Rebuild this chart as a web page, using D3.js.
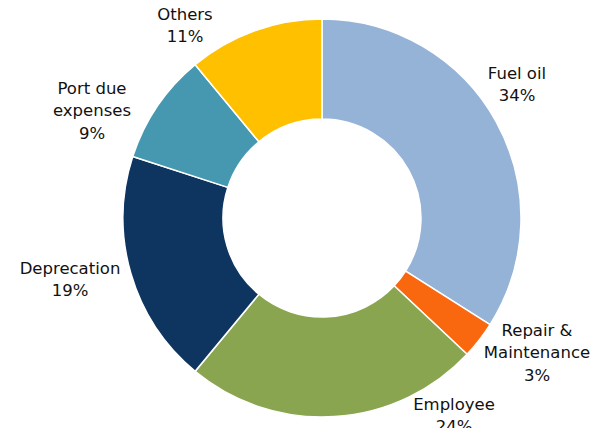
<!DOCTYPE html>
<html>
<head>
<meta charset="utf-8">
<script src="https://cdn.jsdelivr.net/npm/d3@7"></script>
<style>
  html, body { margin: 0; padding: 0; background: #fff; }
  svg text { font-family: "DejaVu Sans", Verdana, sans-serif; font-size: 16.5px; fill: #111; }
</style>
</head>
<body>
<svg id="chart" width="609" height="428"></svg>
<script>
// Cost breakdown, in percent of total
const categories = ["Fuel oil", "Repair & Maintenance", "Employee", "Deprecation", "Port due expenses", "Others"];
const shares = [34, 3, 24, 19, 9, 11];
const colors = ["#95B3D7", "#F9670F", "#8AA54F", "#0E3560", "#4598AF", "#FFC000"];
// Label text broken into lines
const labelLines = [["Fuel oil"], ["Repair &", "Maintenance"], ["Employee"], ["Deprecation"], ["Port due", "expenses"], ["Others"]];

// Layout
const W = 609, H = 428;
const cx = 322, cy = 218;
const outerR = 199, innerR = 99;
const lineH = 22.5;
// label block anchors: centre x, first line middle y
const labelPos = [[517, 73], [537, 330], [454, 404], [70, 268], [92, 88], [185, 14]];

const svg = d3.select("#chart");
const g = svg.append("g").attr("transform", `translate(${cx},${cy})`);

const data = categories.map((c, i) => ({ name: c, value: shares[i], color: colors[i], lines: labelLines[i], pos: labelPos[i] }));

const pie = d3.pie().value(d => d.value).sort(null).startAngle(0).endAngle(2 * Math.PI);
const arc = d3.arc().innerRadius(innerR).outerRadius(outerR);

g.selectAll("path.slice")
  .data(pie(data))
  .join("path")
  .attr("class", "slice")
  .attr("d", arc)
  .attr("fill", d => d.data.color)
  .attr("stroke", "#fff")
  .attr("stroke-width", 1.5);

const labels = svg.selectAll("text.lbl")
  .data(data)
  .join("text")
  .attr("class", "lbl")
  .attr("text-anchor", "middle")
  .attr("x", d => d.pos[0])
  .attr("y", d => d.pos[1]);

labels.each(function(d) {
  const t = d3.select(this);
  const lines = d.lines.concat([d3.format("d")(d.value) + "%"]);
  lines.forEach((ln, k) => {
    t.append("tspan")
      .attr("x", d.pos[0])
      .attr("y", d.pos[1] + k * lineH)
      .attr("dy", "0.35em")
      .text(ln);
  });
});
</script>
</body>
</html>
